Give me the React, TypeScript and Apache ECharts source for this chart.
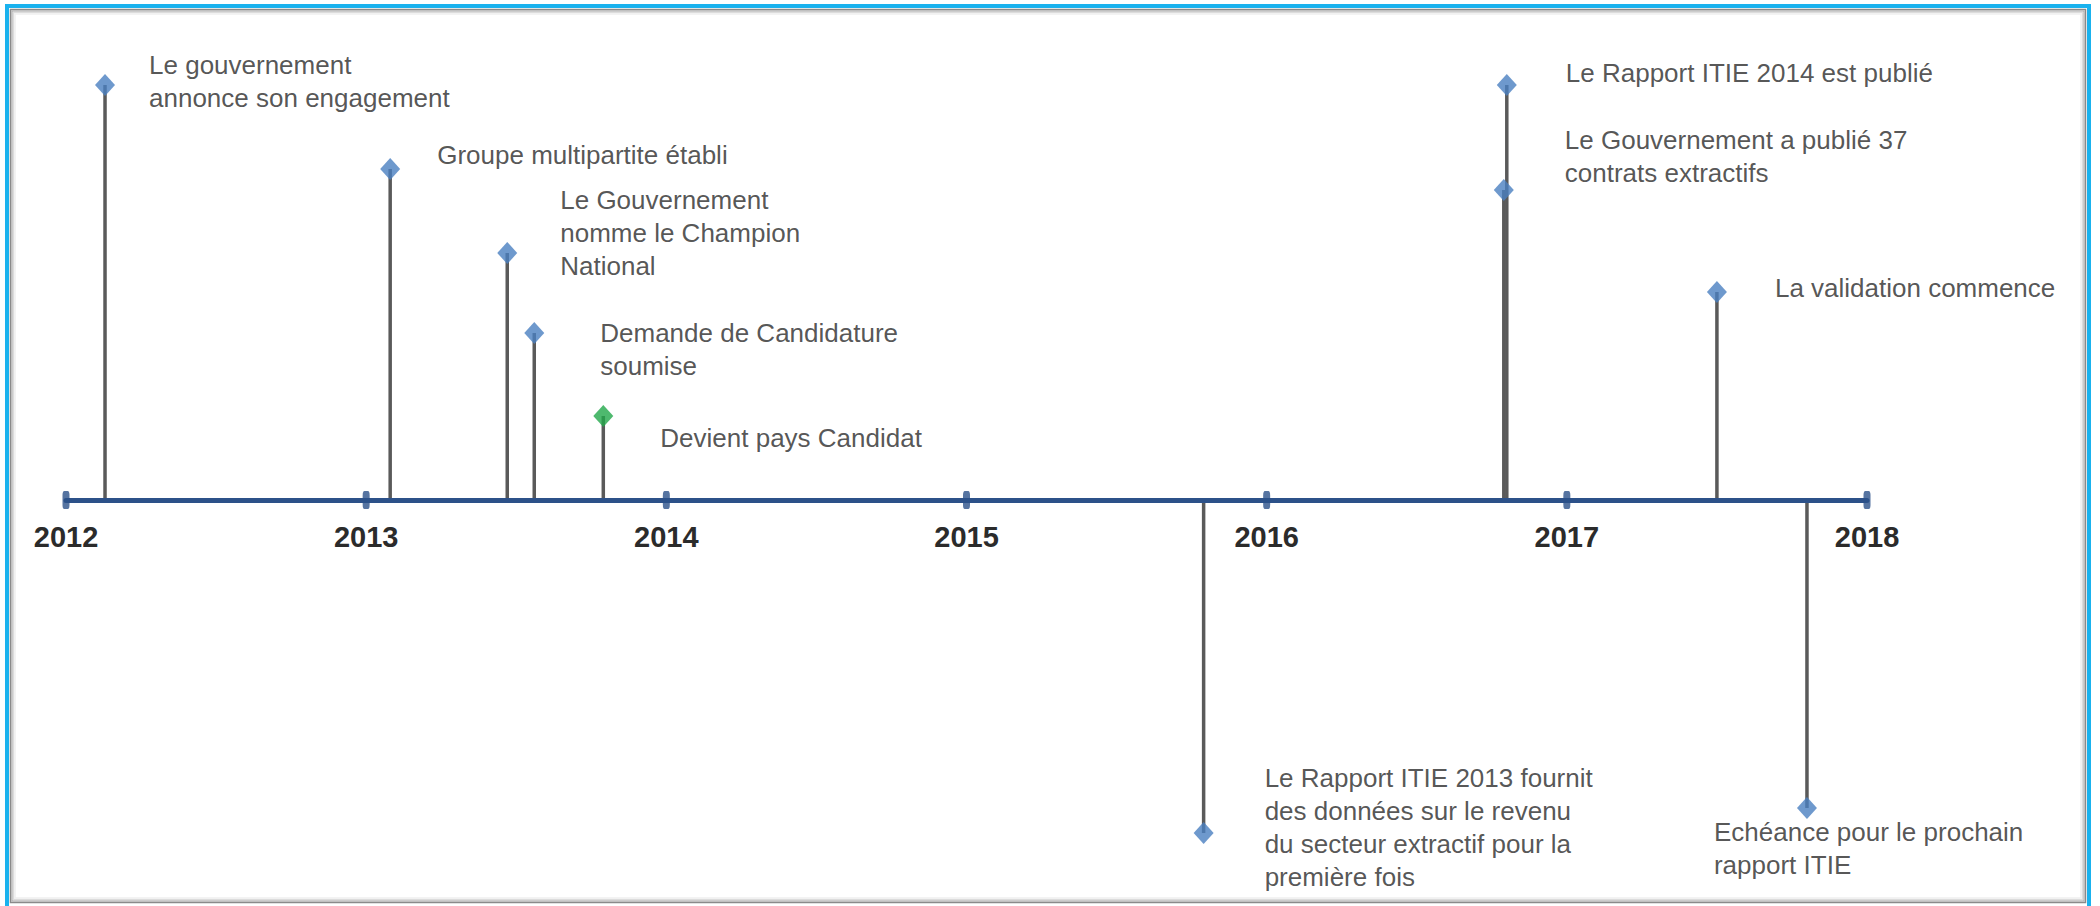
import React, { useEffect, useRef } from "react";
import * as echarts from "echarts";

// ---- Data ----
const yearTicks = [2012, 2013, 2014, 2015, 2016, 2017, 2018];
const eventDates = [2012.13, 2013.08, 2013.47, 2013.56, 2013.79, 2015.79, 2016.8, 2016.79, 2017.5, 2017.8];
const eventHeights = [415, 331, 247, 167, 84, -333, 415, 310, 208, -308];
const eventKinds = ["step", "step", "step", "step", "candidate", "step", "step", "step", "step", "step"];
const eventLabels = [
  "Le gouvernement\nannonce son engagement",
  "Groupe multipartite établi",
  "Le Gouvernement\nnomme le Champion\nNational",
  "Demande de Candidature\nsoumise",
  "Devient pays Candidat",
  "Le Rapport ITIE 2013 fournit\ndes données sur le revenu\ndu secteur extractif pour la\npremière fois",
  "Le Rapport ITIE 2014 est publié",
  "Le Gouvernement a publié 37\ncontrats extractifs",
  "La validation commence",
  "Echéance pour le prochain\nrapport ITIE",
];

// ---- Layout (label offsets relative to marker, px) ----
const labelOffsets: [number, number][] = [
  [34, -3.5],
  [37, -14],
  [43, -20],
  [56, 16],
  [47, 22],
  [51, -6],
  [49, -12],
  [51, -33.5],
  [48, -4],
  [-103, 40],
];

const kindColors: Record<string, string> = { step: "#4a7fc1", candidate: "#22a84a" };
const FONT = "'Liberation Sans', Arial, sans-serif";

export default function App() {
  const ref = useRef<HTMLDivElement>(null);

  useEffect(() => {
    if (!ref.current) return;
    const chart = echarts.init(ref.current, undefined, { renderer: "svg" });

    const stemData = eventDates.map((d, i) => [d, eventHeights[i]]);
    const markerData = eventDates.map((d, i) => ({
      value: [d, eventHeights[i]],
      itemStyle: { color: kindColors[eventKinds[i]] },
      label: {
        show: true,
        position: "right",
        distance: 0,
        offset: labelOffsets[i],
        formatter: eventLabels[i],
      },
    }));

    const option: any = {
      animation: false,
      backgroundColor: "#ffffff",
      grid: {
        left: 66,
        right: 233,
        top: 50,
        height: 450,
        containLabel: false,
        outerBoundsMode: "none",
      },
      xAxis: {
        type: "value",
        min: 2012,
        max: 2018,
        interval: 1,
        z: 2,
        axisLine: { show: true, onZero: false, lineStyle: { color: "#2c5189", width: 5 } },
        axisTick: { show: false },
        splitLine: { show: false },
        axisLabel: {
          fontSize: 29,
          fontWeight: "bold",
          color: "#2b2b2b",
          fontFamily: FONT,
          margin: 22,
          formatter: (v: number) => String(Math.round(v)),
        },
      },
      yAxis: { type: "value", min: 0, max: 450, show: false },
      graphic: [
        {
          type: "rect",
          silent: true,
          z: -10,
          shape: { x: 7, y: 6, width: 2082, height: 930 },
          style: { fill: "#ffffff", stroke: "#1ab2ee", lineWidth: 4 },
        },
        {
          type: "rect",
          silent: true,
          z: -9,
          shape: { x: 10.5, y: 9.5, width: 2075, height: 893 },
          style: { fill: "none", stroke: "#8a8a8a", lineWidth: 1.5 },
        },
        {
          type: "rect",
          silent: true,
          z: -9,
          shape: { x: 12, y: 11, width: 2072, height: 890 },
          style: { fill: "none", stroke: "#b5b5b5", lineWidth: 1.5 },
        },
        {
          type: "rect",
          silent: true,
          z: -9,
          shape: { x: 13.5, y: 12.5, width: 2069, height: 887 },
          style: { fill: "none", stroke: "#dcdcdc", lineWidth: 1.5 },
        },
        {
          type: "rect",
          silent: true,
          z: -9,
          shape: { x: 15, y: 14, width: 2066, height: 884 },
          style: { fill: "none", stroke: "#f0f0f0", lineWidth: 1.5 },
        },
      ],
      series: [
        {
          type: "custom",
          z: 1,
          silent: true,
          clip: false,
          data: stemData,
          encode: { x: 0, y: 1 },
          renderItem: (params: any, api: any) => {
            const x = api.value(0);
            const y = api.value(1);
            const p0 = api.coord([x, 0]);
            const p1 = api.coord([x, y]);
            return {
              type: "line",
              shape: { x1: p0[0], y1: p0[1], x2: p1[0], y2: p1[1] },
              style: { stroke: "#5a5a5a", lineWidth: 3.5 },
            };
          },
        },
        {
          type: "scatter",
          z: 3,
          silent: true,
          clip: false,
          symbol: "roundRect",
          symbolSize: [7, 18],
          itemStyle: { color: "#2c5189" },
          data: yearTicks.map((y) => [y, 0]),
        },
        {
          type: "scatter",
          z: 4,
          silent: true,
          clip: false,
          symbol: "diamond",
          symbolSize: [20, 22],
          label: {
            fontSize: 26,
            lineHeight: 33,
            color: "#2a2a2a",
            fontFamily: FONT,
            align: "left",
          },
          data: markerData,
        },
      ],
    };

    chart.setOption(option);
    return () => chart.dispose();
  }, []);

  return (
    <div
      ref={ref}
      style={{ position: "fixed", left: 0, top: 0, width: 2100, height: 906, background: "#ffffff" }}
    />
  );
}
